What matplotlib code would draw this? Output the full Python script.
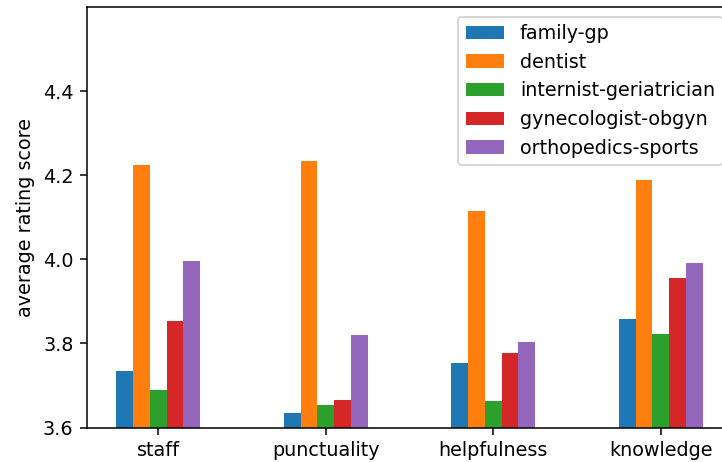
import matplotlib
matplotlib.use("Agg")
import matplotlib.pyplot as plt
import numpy as np

categories = ["staff", "punctuality", "helpfulness", "knowledge"]
series_names = ["family-gp", "dentist", "internist-geriatrician",
                "gynecologist-obgyn", "orthopedics-sports"]
family_gp = [3.735, 3.634, 3.754, 3.859]
dentist = [4.225, 4.234, 4.116, 4.189]
internist_geriatrician = [3.689, 3.653, 3.662, 3.823]
gynecologist_obgyn = [3.854, 3.666, 3.777, 3.956]
orthopedics_sports = [3.997, 3.819, 3.804, 3.992]
series_values = [family_gp, dentist, internist_geriatrician,
                 gynecologist_obgyn, orthopedics_sports]
colors = ["#1f77b4", "#ff7f0e", "#2ca02c", "#d62728", "#9467bd"]

dpi = 138
fig = plt.figure(figsize=(722 / dpi, 462 / dpi), dpi=dpi)
ax = fig.add_axes([87 / 722, 1 - 427.5 / 462, (732.2 - 87) / 722, (427.5 - 7) / 462])

x = np.arange(len(categories))
n = len(series_names)
w = 0.5 / n
for i, (name, vals, c) in enumerate(zip(series_names, series_values, colors)):
    ax.bar(x + (i - (n - 1) / 2) * w, np.array(vals) - 3.6, width=w, bottom=3.6,
           color=c, label=name)

ax.set_xticks(x)
ax.set_xticklabels(categories)
ax.set_xlim(-0.426, 3.426)
ax.set_ylim(3.6, 4.6)
ax.set_yticks([3.6, 3.8, 4.0, 4.2, 4.4])
ax.set_ylabel("average rating score")
ax.legend(loc="upper right")

fig.savefig("out.png", dpi=dpi)
